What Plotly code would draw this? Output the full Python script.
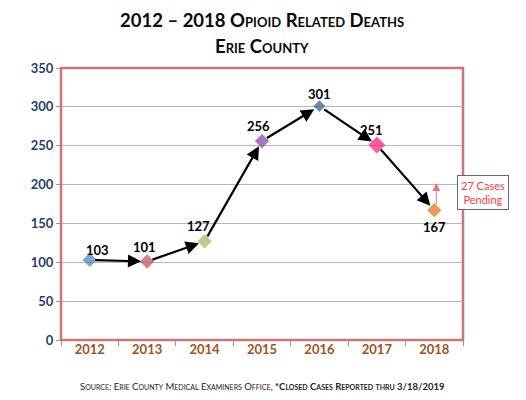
import plotly.graph_objects as go

years = ["2012", "2013", "2014", "2015", "2016", "2017", "2018"]
deaths = [103, 101, 127, 256, 301, 251, 167]
marker_colors = ["#4a7ebb", "#be4b48", "#98b954", "#7d3fa8", "#2a5b96", "#ff1a75", "#e46c0a"]
marker_sizes = [11, 11, 11, 11, 9, 13, 11]
y_ticks = [0, 50, 100, 150, 200, 250, 300, 350]
pending_note = "27 Cases<br>Pending"
pending_top = 202

label_dx = [8, -3, -6, -4, 0, -5, 0]
label_dy = [10, 15, 15, 15, 12, 15, -17]

FONT = "Lato, 'Open Sans', sans-serif"
W, H = 526, 400
ML, MR, MT, MB = 61, 63, 68, 60
plot_h = H - MT - MB
plot_w = W - ML - MR


def py(pix):
    return (H - MB - pix) / plot_h


def px(pix):
    return (pix - ML) / plot_w


xs = list(range(len(years)))

fig = go.Figure()
fig.add_trace(go.Scatter(
    x=xs, y=deaths, mode="markers",
    marker=dict(symbol="diamond", size=marker_sizes, color=marker_colors, line=dict(width=0)),
    text=years, hovertemplate="%{text}: %{y}<extra></extra>", showlegend=False,
))

for i in range(len(xs) - 1):
    fig.add_annotation(
        x=xs[i + 1], y=deaths[i + 1], ax=xs[i], ay=deaths[i],
        xref="x", yref="y", axref="x", ayref="y",
        showarrow=True, arrowhead=2, arrowsize=1.2, arrowwidth=2.2,
        arrowcolor="#000000", standoff=6, startstandoff=4, text="",
    )

for i, v in enumerate(deaths):
    fig.add_annotation(
        x=xs[i], y=v, xref="x", yref="y", text=f"<b>{v}</b>", showarrow=False,
        xshift=label_dx[i], yshift=label_dy[i],
        font=dict(family=FONT, size=13, color="#000000"),
    )

fig.add_annotation(
    x=xs[-1], y=pending_top, ax=xs[-1], ay=deaths[-1] + 6,
    xref="x", yref="y", axref="x", ayref="y", xshift=2,
    showarrow=True, arrowhead=2, arrowsize=1.6, arrowwidth=1,
    arrowcolor="#e07a7a", text="",
)
fig.add_annotation(
    x=px(483), y=190, xref="paper", yref="y", xanchor="center", yanchor="middle",
    text=pending_note, showarrow=False,
    font=dict(family=FONT, size=11, color="#ff3b3b"),
    bordercolor="#5b6b82", borderwidth=1, borderpad=3, bgcolor="#ffffff", align="center",
)

fig.add_annotation(x=px(262), y=py(20), xref="paper", yref="paper", xanchor="center", yanchor="middle",
                   text="<b>2012 – 2018 Opioid Related Deaths</b>", showarrow=False,
                   font=dict(family=FONT, size=18.5, color="#0a0a0a", variant="small-caps"))
fig.add_annotation(x=px(262), y=py(46), xref="paper", yref="paper", xanchor="center", yanchor="middle",
                   text="<b>Erie County</b>", showarrow=False,
                   font=dict(family=FONT, size=18.5, color="#0a0a0a", variant="small-caps"))
fig.add_annotation(x=px(262), y=py(386), xref="paper", yref="paper", xanchor="center", yanchor="middle",
                   text="Source: Erie County Medical Examiners Office, <b>*Closed Cases Reported thru 3/18/2019</b>",
                   showarrow=False,
                   font=dict(family=FONT, size=9.5, color="#222222", variant="small-caps"))

fig.update_layout(
    width=W, height=H,
    margin=dict(l=ML, r=MR, t=MT, b=MB),
    paper_bgcolor="#ffffff", plot_bgcolor="#ffffff",
    font=dict(family=FONT),
    xaxis=dict(
        range=[-0.5, len(years) - 0.5], tickvals=xs, ticktext=years, ticks="",
        showgrid=False, showline=False, zeroline=False, fixedrange=True,
        tickfont=dict(family=FONT, size=13, color="#a0521d", weight="bold"),
        minor=dict(tick0=-0.5, dtick=1, ticks="outside", ticklen=5, tickcolor="#999999", showgrid=False),
    ),
    yaxis=dict(
        range=[0, 350], tickvals=y_ticks, ticks="outside", ticklen=4,
        tickcolor="#999999", showgrid=True, gridcolor="#b7b7b7", gridwidth=1,
        zeroline=False, showline=False,
        tickfont=dict(family=FONT, size=13, color="#1f3f6e", weight="bold"),
    ),
    shapes=[dict(type="rect", xref="paper", yref="paper", x0=0, x1=1, y0=0, y1=1,
                 line=dict(color="#cf7474", width=2.5), layer="above")],
)

fig.write_html("out.html", config={"displayModeBar": False},
               post_script="document.body.style.margin='0';document.body.style.overflow='hidden';")
